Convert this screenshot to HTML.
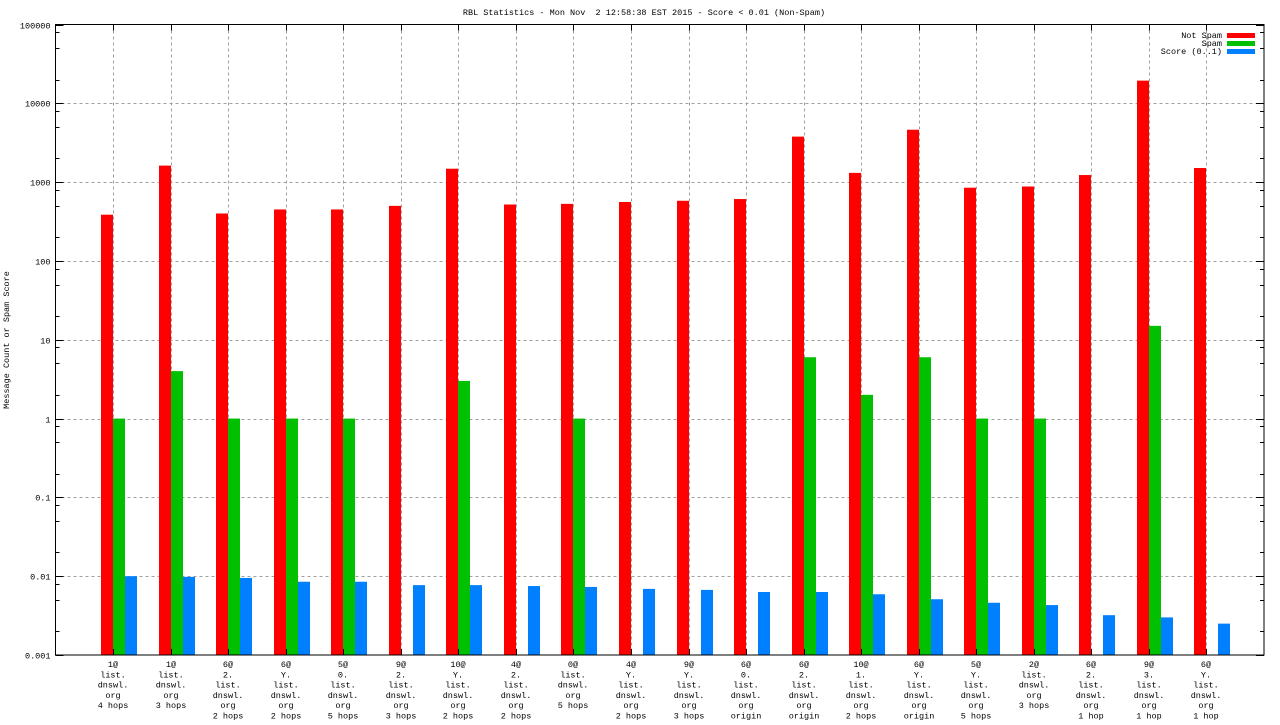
<!DOCTYPE html>
<html><head><meta charset="utf-8"><style>
html,body{margin:0;padding:0;background:#fff;}
svg text{font-family:"Liberation Mono",monospace;font-size:8.5px;fill:#000;}
</style></head><body>
<svg id="chart" width="1280" height="720" xmlns="http://www.w3.org/2000/svg">
<text x="644" y="15" text-anchor="middle">RBL Statistics - Mon Nov&#160; 2 12:58:38 EST 2015 - Score &lt; 0.01 (Non-Spam)</text>
<text transform="translate(9,340) rotate(-90)" text-anchor="middle">Message Count or Spam Score</text>
<g id="grid"></g><g id="bars"></g><g id="axes"></g><g id="labels"></g>
<g>
<text x="1222" y="38" text-anchor="end">Not Spam</text>
<rect x="1227" y="33" width="28" height="5" fill="#ff0000"/>
<text x="1222" y="46" text-anchor="end">Spam</text>
<rect x="1227" y="41" width="28" height="5" fill="#00c000"/>
<text x="1222" y="54" text-anchor="end">Score (0..1)</text>
<rect x="1227" y="49" width="28" height="5" fill="#0080ff"/>
</g>
</svg>
<script>
const categories=[
["1@","list.","dnswl.","org","4 hops"],["1@","list.","dnswl.","org","3 hops"],["6@","2.","list.","dnswl.","org","2 hops"],["6@","Y.","list.","dnswl.","org","2 hops"],["5@","0.","list.","dnswl.","org","5 hops"],["9@","2.","list.","dnswl.","org","3 hops"],["10@","Y.","list.","dnswl.","org","2 hops"],["4@","2.","list.","dnswl.","org","2 hops"],["0@","list.","dnswl.","org","5 hops"],["4@","Y.","list.","dnswl.","org","2 hops"],["9@","Y.","list.","dnswl.","org","3 hops"],["6@","0.","list.","dnswl.","org","origin"],["6@","2.","list.","dnswl.","org","origin"],["10@","1.","list.","dnswl.","org","2 hops"],["6@","Y.","list.","dnswl.","org","origin"],["5@","Y.","list.","dnswl.","org","5 hops"],["2@","list.","dnswl.","org","3 hops"],["6@","2.","list.","dnswl.","org","1 hop"],["9@","3.","list.","dnswl.","org","1 hop"],["6@","Y.","list.","dnswl.","org","1 hop"]];
const notSpam=[386,1620,400,450,450,500,1480,520,530,560,580,610,3780,1310,4620,850,880,1230,19400,1510];
const spam=[1,4,1,1,1,0,3,0,1,0,0,0,6,2,6,1,1,0,15,0];
const score=[0.0100,0.0098,0.0095,0.0085,0.0085,0.0077,0.0077,0.0075,0.0073,0.0069,0.0067,0.0063,0.0063,0.0059,0.0051,0.0046,0.0043,0.0032,0.0030,0.0025];
const yTicks=["0.001","0.01","0.1","1","10","100","1000","10000","100000"];
const NS="http://www.w3.org/2000/svg";
const L=55.5,R=1264,T=24.5,B=655;
const X=i=>L+(i+1)*(R-L)/21;
const Y=v=>B-(Math.log10(v)+3)*(B-T)/8;
function mk(tag,attrs,parent){const e=document.createElementNS(NS,tag);for(const k in attrs)e.setAttribute(k,attrs[k]);parent.appendChild(e);return e;}
const grid=document.getElementById('grid'),bars=document.getElementById('bars'),axes=document.getElementById('axes'),labels=document.getElementById('labels');
yTicks.forEach((t,k)=>{const v=parseFloat(t),y=Math.round(Y(v))+0.5;
 if(k>0&&k<yTicks.length-1){const g=mk('line',{x1:L,x2:R,y1:y,y2:y,stroke:'#a0a0a0','stroke-dasharray':'3,3'},grid);
 
 }
 mk('line',{x1:L,x2:L+8,y1:y,y2:y,stroke:'#000'},axes);mk('line',{x1:R,x2:R-8,y1:y,y2:y,stroke:'#000'},axes);
 const tx=mk('text',{x:L-5,y:y+3,'text-anchor':'end'},labels);tx.textContent=t;
 
 
 if(k<yTicks.length-1){[2,5,8].forEach(m=>{const ym=Math.round(Y(v*m))+0.5;mk('line',{x1:L,x2:L+4,y1:ym,y2:ym,stroke:'#000'},axes);mk('line',{x1:R,x2:R-4,y1:ym,y2:ym,stroke:'#000'},axes);});}
});
categories.forEach((c,i)=>{const x=Math.round(X(i))+0.5;
 const g=mk('line',{x1:x,x2:x,y1:T,y2:B,stroke:'#a0a0a0','stroke-dasharray':'3,3'},grid);
 
 
 mk('line',{x1:x,x2:x,y1:T,y2:T+6,stroke:'#000'},axes);mk('line',{x1:x,x2:x,y1:B,y2:B-6,stroke:'#000'},axes);
 const cx=Math.round(X(i));
 const series=[[notSpam[i],'#ff0000',-12,'bar-not-spam'],[spam[i],'#00c000',0,'bar-spam'],[score[i],'#0080ff',12,'bar-score']];
 series.forEach(s=>{if(s[0]>0){const y=Y(s[0]);const r=mk('rect',{x:cx+s[2],y:y,width:12,height:B-y,fill:s[1]},bars);
  
  }});
 c.forEach((ln,j)=>{const t=mk('text',{x:cx,y:667+j*10.3,'text-anchor':'middle'},labels);t.textContent=ln;});
 const tl=labels.lastChild;
 
 
});
const fr=mk('rect',{x:L,y:T,width:R-L,height:B-T,fill:'none',stroke:'#000','stroke-width':1},axes);


</script>
</body></html>
